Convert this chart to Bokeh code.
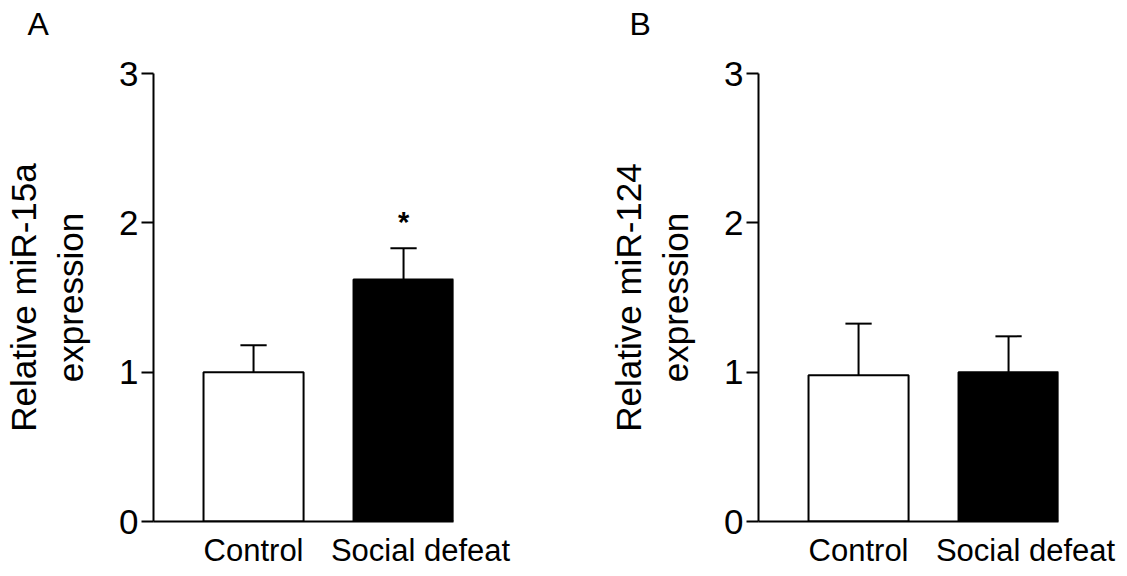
from bokeh.plotting import figure
from bokeh.layouts import row
from bokeh.models import ColumnDataSource, FixedTicker, Range1d, CustomJSTickFormatter
from bokeh.core.properties import value
from bokeh.embed import file_html
from bokeh.resources import INLINE

# ---- data ----
CATEGORIES = ["Control", "Social defeat"]
MIR15A_MEAN = [1.00, 1.62]
MIR15A_SEM = [0.18, 0.21]
MIR124_MEAN = [0.98, 1.00]
MIR124_SEM = [0.345, 0.24]
SIG_A = ["", "*"]
SIG_B = ["", ""]
Y_TICKS = [0, 1, 2, 3]
BAR_COLORS = ["white", "black"]

# ---- style ----
FONT = "Liberation Sans"
X_START, X_END = -0.667, 1.333
Y_START, Y_END = 0, 3
BAR_W = 0.667
CAP_W = 0.175
LABEL_NUDGE = [0.0, 0.113]


def panel(letter, means, sems, sig, ylabel, width, border_right, letter_dx):
    p = figure(width=width, height=576, output_backend="svg", toolbar_location=None,
               x_range=Range1d(X_START, X_END), y_range=Range1d(Y_START, Y_END),
               min_border_left=153, min_border_right=border_right,
               min_border_top=73, min_border_bottom=55)
    p.outline_line_color = None
    p.xgrid.visible = False
    p.ygrid.visible = False
    p.background_fill_color = "white"

    # panel letter: a blank second line lifts it above the plot area
    p.title.text = letter + "\n "
    p.title.align = "left"
    p.title.offset = letter_dx
    p.title.text_font = FONT
    p.title.text_font_size = "32px"
    p.title.text_font_style = "normal"
    p.title.text_color = "black"
    p.title.text_line_height = 0.88
    p.title.standoff = 0

    xs = list(range(len(CATEGORIES)))
    tops = [m + s for m, s in zip(means, sems)]
    src = ColumnDataSource(dict(x=xs, mean=means, top=tops, color=BAR_COLORS,
                                cl=[x - CAP_W / 2 for x in xs], cr=[x + CAP_W / 2 for x in xs],
                                sig=sig))
    p.segment(x0="x", y0="mean", x1="x", y1="top", source=src, line_color="black", line_width=2)
    p.segment(x0="cl", y0="top", x1="cr", y1="top", source=src, line_color="black", line_width=2)
    p.vbar(x="x", top="mean", bottom=0, width=BAR_W, source=src,
           fill_color="color", line_color="black", line_width=2)
    p.text(x="x", y="top", text="sig", source=src, text_font=value(FONT),
           text_font_size="29px", text_font_style="bold", text_align="center",
           text_baseline="alphabetic", y_offset=-26, text_color="black")

    # y axis
    ya = p.yaxis[0]
    ya.ticker = FixedTicker(ticks=Y_TICKS)
    ya.minor_tick_line_color = None
    ya.axis_line_width = 2
    ya.major_tick_line_width = 2
    ya.major_tick_out = 12
    ya.major_tick_in = 0
    ya.major_label_text_font = FONT
    ya.major_label_text_font_size = "35px"
    ya.major_label_text_color = "black"
    ya.major_label_standoff = 3
    ya.axis_label = ylabel
    ya.axis_label_text_font = FONT
    ya.axis_label_text_font_size = "35px"
    ya.axis_label_text_font_style = "normal"
    ya.axis_label_text_color = "black"
    ya.axis_label_text_line_height = 1.2
    ya.axis_label_standoff = 26

    # x axis: category names centred under (nudged) bar positions
    xa = p.xaxis[0]
    xa.ticker = FixedTicker(ticks=[i + LABEL_NUDGE[i] for i in range(len(CATEGORIES))])
    xa.formatter = CustomJSTickFormatter(args=dict(labels=CATEGORIES),
                                         code="return labels[index];")
    xa.minor_tick_line_color = None
    xa.major_tick_line_color = None
    xa.major_tick_out = 0
    xa.major_tick_in = 0
    xa.major_label_standoff = 11
    xa.major_label_text_font = FONT
    xa.major_label_text_font_size = "31px"
    xa.major_label_text_color = "black"
    xa.axis_line_width = 2
    return p


pA = panel("A", MIR15A_MEAN, MIR15A_SEM, SIG_A, "Relative miR-15a\nexpression", 605, 152, -126)
pB = panel("B", MIR124_MEAN, MIR124_SEM, SIG_B, "Relative miR-124\nexpression", 520, 67, -129)

layout = row(pA, pB)
open("out.html", "w").write(file_html(layout, INLINE))
